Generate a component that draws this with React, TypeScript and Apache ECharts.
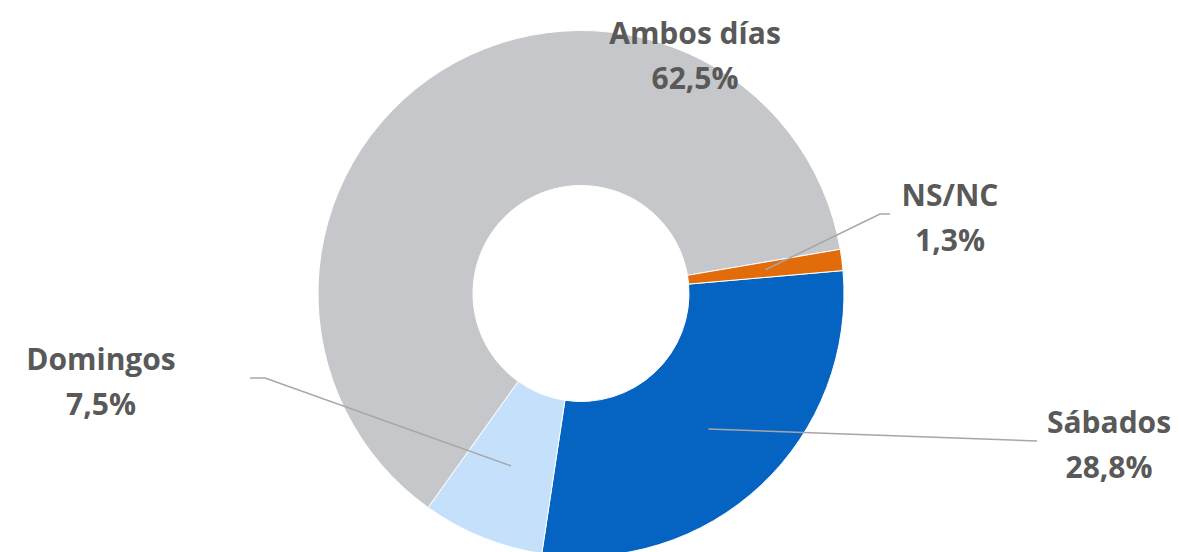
import React, { useEffect, useRef } from "react";
import * as echarts from "echarts";

const categories = ["Sábados", "Domingos", "Ambos días", "NS/NC"];
const values = [28.8, 7.5, 62.5, 1.3];
const colors = ["#0563c1", "#c5e0fa", "#c5c7ca", "#e26b0a"];
// label anchor (center of text block) per category
const labelAnchors = [
  [1109, 444],
  [101, 381],
  [695, 55],
  [950, 217],
];
// leader line bend and end points (null = no leader line)
const elbows: (number[] | null)[] = [null, [265, 378], null, [880, 214]];
const lineEnds: (number[] | null)[] = [[1037, 441], [250, 378], null, [890, 214]];

const CX = 581;
const CY = 293.5;
const R_IN = 108;
const R_OUT = 263;
const START = 5;

export default function App() {
  const ref = useRef<HTMLDivElement>(null);
  useEffect(() => {
    if (!ref.current) return;
    const chart = echarts.init(ref.current, undefined, { renderer: "svg" });
    const fmt = (v: number) => v.toFixed(1).replace(".", ",") + "%";
    const total = values.reduce((s, v) => s + v, 0);
    let cum = 0;
    const leaderLines: any[] = [];
    values.forEach((v, i) => {
      const midFrac = (cum + v / 2) / total;
      cum += v;
      if (!lineEnds[i]) return;
      const theta = ((START - midFrac * 360) * Math.PI) / 180;
      const rm = (R_IN + R_OUT) / 2 + 0.5;
      const start = [CX + rm * Math.cos(theta), CY - rm * Math.sin(theta)];
      const pts = [start];
      if (elbows[i]) pts.push(elbows[i] as number[]);
      pts.push(lineEnds[i] as number[]);
      leaderLines.push({
        type: "polyline",
        z: 10,
        shape: { points: pts },
        style: { stroke: "#a6a6a6", lineWidth: 1.5, fill: null },
        silent: true,
      });
    });
    chart.setOption({
      animation: false,
      backgroundColor: "#ffffff",
      graphic: leaderLines,
      series: [
        {
          type: "pie",
          center: [CX, CY],
          radius: [R_IN, R_OUT],
          startAngle: START,
          clockwise: true,
          avoidLabelOverlap: false,
          itemStyle: { borderColor: "#ffffff", borderWidth: 1 },
          label: {
            show: true,
            position: "outside",
            formatter: (p: any) => p.name + "\n" + fmt(p.value),
            fontFamily: "'Open Sans', sans-serif",
            fontWeight: "bold",
            fontSize: 30,
            lineHeight: 45,
            color: "#595959",
            align: "center",
          },
          labelLine: { show: false },
          labelLayout: (params: any) => {
            const a = labelAnchors[params.dataIndex];
            return { x: a[0], y: a[1], align: "center", verticalAlign: "middle" };
          },
          data: categories.map((c, i) => ({
            name: c,
            value: values[i],
            itemStyle: { color: colors[i] },
          })),
        },
      ],
    });
    return () => chart.dispose();
  }, []);
  return (
    <div
      ref={ref}
      style={{ position: "absolute", left: 0, top: 0, width: 1178, height: 552 }}
    />
  );
}
